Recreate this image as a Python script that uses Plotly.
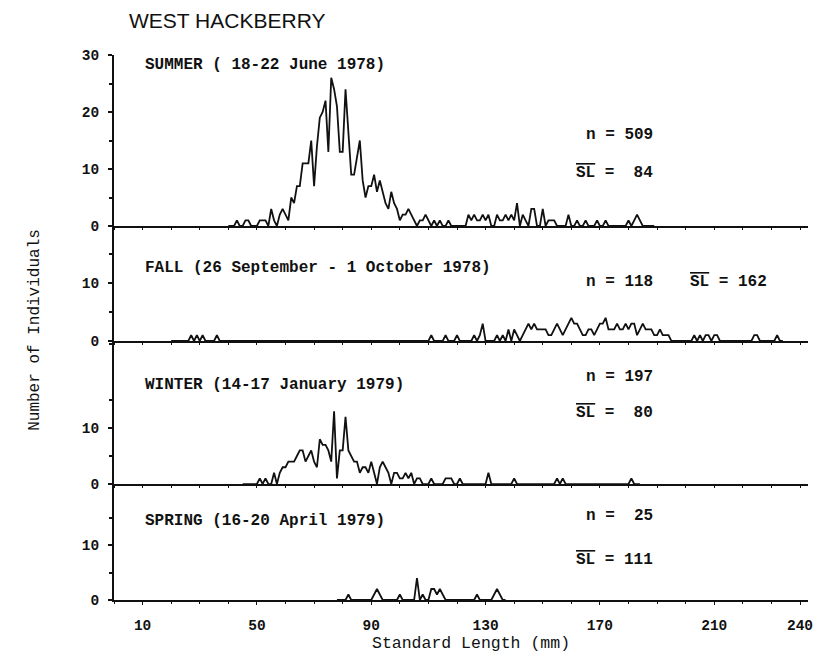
import plotly.graph_objects as go

# ---------------- data (counts per 1-mm standard-length class) ----------------
summer_start = 40
summer_counts = [
    0, 0, 0, 1, 0, 0, 1, 1, 0, 0,        # 40-49
    0, 1, 1, 1, 0, 3, 1, 0, 2, 3,        # 50-59
    2, 1, 5, 4, 7, 7, 11, 11, 11, 15,    # 60-69
    7, 14, 19, 20, 22, 13, 26, 24, 21, 13,  # 70-79
    13, 24, 17, 9, 9, 12, 15, 8, 5, 7,   # 80-89
    7, 9, 6, 8, 6, 4, 3, 6, 4, 3,        # 90-99
    1, 2, 2, 3, 2, 1, 0, 1, 1, 2,        # 100-109
    1, 0, 1, 0, 1, 0, 0, 1, 0, 0,        # 110-119
    0, 0, 0, 0, 2, 1, 2, 1, 1, 2,        # 120-129
    1, 2, 0, 0, 2, 1, 1, 2, 1, 2,        # 130-139
    1, 4, 0, 2, 1, 0, 3, 3, 0, 0,        # 140-149
    3, 0, 1, 1, 1, 0, 0, 0, 0, 2,        # 150-159
    0, 0, 1, 0, 0, 1, 0, 0, 0, 1,        # 160-169
    0, 0, 1, 0, 0, 0, 0, 0, 0, 0,        # 170-179
    1, 0, 1, 2, 1, 0, 0, 0, 0, 0,        # 180-189
]

fall_start = 20
fall_counts = [
    0, 0, 0, 0, 0, 0, 0, 1, 0, 1,        # 20-29
    0, 1, 0, 0, 0, 0, 1, 0, 0, 0,        # 30-39
    0, 0, 0, 0, 0, 0, 0, 0, 0, 0,        # 40-49
    0, 0, 0, 0, 0, 0, 0, 0, 0, 0,        # 50-59
    0, 0, 0, 0, 0, 0, 0, 0, 0, 0,        # 60-69
    0, 0, 0, 0, 0, 0, 0, 0, 0, 0,        # 70-79
    0, 0, 0, 0, 0, 0, 0, 0, 0, 0,        # 80-89
    0, 0, 0, 0, 0, 0, 0, 0, 0, 0,        # 90-99
    0, 0, 0, 0, 0, 0, 0, 0, 0, 0,        # 100-109
    0, 1, 0, 0, 0, 0, 1, 0, 0, 0,        # 110-119
    1, 0, 0, 0, 0, 0, 1, 0, 1, 3,        # 120-129
    0, 0, 0, 0, 1, 0, 1, 0, 2, 0,        # 130-139
    2, 1, 0, 1, 2, 3, 2, 3, 2, 2,        # 140-149
    2, 2, 1, 1, 2, 3, 2, 1, 2, 3,        # 150-159
    4, 3, 3, 2, 1, 1, 2, 2, 1, 2,        # 160-169
    3, 3, 4, 2, 2, 2, 3, 2, 2, 3,        # 170-179
    2, 3, 3, 1, 2, 3, 2, 2, 2, 1,        # 180-189
    1, 2, 1, 1, 1, 0, 0, 0, 0, 0,        # 190-199
    0, 0, 0, 1, 0, 1, 0, 1, 1, 0,        # 200-209
    1, 1, 0, 0, 0, 0, 0, 0, 0, 0,        # 210-219
    0, 0, 0, 0, 1, 1, 0, 0, 0, 0,        # 220-229
    0, 0, 1, 0, 0,                       # 230-234
]

winter_start = 45
winter_counts = [
    0, 0, 0, 0, 0,                       # 45-49
    0, 1, 0, 1, 0, 0, 2, 0, 2, 3,        # 50-59
    3, 4, 4, 4, 5, 6, 6, 4, 5, 6,        # 60-69
    4, 3, 8, 7, 7, 6, 4, 13, 1, 6,       # 70-79
    6, 12, 6, 5, 4, 4, 2, 3, 3, 2,       # 80-89
    4, 2, 0, 3, 4, 3, 2, 0, 2, 2,        # 90-99
    1, 1, 2, 1, 2, 0, 1, 1, 0, 0,        # 100-109
    0, 1, 0, 0, 0, 0, 1, 1, 1, 0,        # 110-119
    0, 1, 0, 0, 0, 0, 0, 0, 0, 0,        # 120-129
    0, 2, 0, 0, 0, 0, 0, 0, 0, 0,        # 130-139
    1, 0, 0, 0, 0, 0, 0, 0, 0, 0,        # 140-149
    0, 0, 0, 0, 0, 1, 0, 1, 0, 0,        # 150-159
    0, 0, 0, 0, 0, 0, 0, 0, 0, 0,        # 160-169
    0, 0, 0, 0, 0, 0, 0, 0, 0, 0,        # 170-179
    0, 1, 0, 0, 0,                       # 180-184
]

spring_start = 78
spring_counts = [
    0, 0,                                # 78-79
    0, 0, 1, 0, 0, 0, 0, 0, 0, 0,        # 80-89
    0, 1, 2, 1, 0, 0, 0, 0, 0, 0,        # 90-99
    1, 0, 0, 0, 0, 0, 4, 0, 1, 0,        # 100-109
    0, 2, 2, 1, 2, 1, 0, 0, 0, 0,        # 110-119
    0, 0, 0, 0, 0, 0, 0, 1, 0, 0,        # 120-129
    0, 0, 0, 1, 2, 1, 0, 0,              # 130-137
]

panel_labels = [
    "SUMMER ( 18-22 June 1978)",
    "FALL (26 September - 1 October 1978)",
    "WINTER (14-17 January 1979)",
    "SPRING (16-20 April 1979)",
]
n_values = ["509", "118", "197", " 25"]
sl_values = [" 84", "162", " 80", "111"]

x_tick_vals = [10, 50, 90, 130, 170, 210, 240]


def lengths(start, counts):
    return list(range(start, start + len(counts)))


# ---------------- figure ----------------
MONO = "Liberation Mono"
BLACK = "#111111"

fig = go.Figure()

# subplot order bottom -> top : spring (1), winter (2), fall (3), summer (4)
series = [
    (spring_start, spring_counts),
    (winter_start, winter_counts),
    (fall_start, fall_counts),
    (summer_start, summer_counts),
]
for i, (s, c) in enumerate(series):
    sfx = "" if i == 0 else str(i + 1)
    fig.add_trace(go.Scatter(
        x=lengths(s, c), y=c, mode="lines",
        line=dict(color=BLACK, width=1.8),
        xaxis="x" + sfx, yaxis="y" + sfx, showlegend=False,
        hoverinfo="skip",
    ))

domains = [[0.0, 0.2128], [0.2128, 0.4752], [0.4752, 0.6862], [0.6862, 1.0]]
yranges = [[0, 21.09], [0, 25.54], [0, 19.83], [0, 30]]
ytickvals = [[0, 10], [0, 10], [0, 10], [0, 10, 20, 30]]
XMAX = 242.8

# the page places the figure 8 px from the top-left corner, so the figure is
# made 8 px smaller and its margins are shifted accordingly
layout = dict(
    width=817, height=646,
    margin=dict(l=106, r=13, t=47, b=54),
    paper_bgcolor="white", plot_bgcolor="white",
    showlegend=False,
)
for i in range(4):
    sfx = "" if i == 0 else str(i + 1)
    layout["xaxis" + sfx] = dict(
        domain=[0, 1], anchor="y" + sfx, range=[0, XMAX],
        showline=True, linecolor=BLACK, linewidth=2,
        showgrid=False, zeroline=False,
        tickmode="array", tickvals=x_tick_vals if i == 0 else [],
        showticklabels=(i == 0),
        ticks="outside", ticklen=3, tickwidth=1, tickcolor=BLACK,
        minor=dict(ticks="outside", tick0=0, dtick=10, ticklen=2,
                   tickwidth=1, tickcolor=BLACK),
        tickfont=dict(family=MONO, size=14.5, color=BLACK, weight="bold"),
        ticklabelstandoff=8,
        fixedrange=True,
    )
    if i > 0:
        layout["xaxis" + sfx]["matches"] = "x"
    layout["yaxis" + sfx] = dict(
        domain=domains[i], anchor="x" + sfx, range=yranges[i],
        showline=True, linecolor=BLACK, linewidth=2,
        showgrid=False, zeroline=False,
        tickmode="array", tickvals=ytickvals[i],
        ticks="outside", ticklen=4, tickwidth=1.5, tickcolor=BLACK,
        minor=dict(ticks="outside", tickvals=[5, 15, 25], ticklen=3,
                   tickwidth=1.5, tickcolor=BLACK),
        tickfont=dict(family=MONO, size=14.5, color=BLACK, weight="bold"),
        ticklabelstandoff=6,
        fixedrange=True,
    )
fig.update_layout(**layout)

OL = '<span style="text-decoration:overline">SL</span>'
txt = dict(family=MONO, size=16, color=BLACK, weight="bold")
ann = []
# panel label y positions (data units) and n / SL positions
label_y = [14.4, 17.7, 12.6, 28.2]
n_y = [15.3, 19.1, 10.2, 16.0]
sl_y = [7.3, 12.7, 10.2, 9.3]
names_bottom_up = [panel_labels[3], panel_labels[2], panel_labels[1], panel_labels[0]]
n_bu = [n_values[3], n_values[2], n_values[1], n_values[0]]
sl_bu = [sl_values[3], sl_values[2], sl_values[1], sl_values[0]]
X_RIGHT = 189.3
for i in range(4):
    sfx = "" if i == 0 else str(i + 1)
    ann.append(dict(text=names_bottom_up[i], x=10, y=label_y[i],
                    xref="x" + sfx, yref="y" + sfx, xanchor="left",
                    yanchor="middle", showarrow=False, font=txt))
    ann.append(dict(text="n = " + n_bu[i].replace(" ", "&nbsp;"),
                    x=X_RIGHT, y=n_y[i],
                    xref="x" + sfx, yref="y" + sfx, xanchor="right",
                    yanchor="middle", showarrow=False, font=txt))
    if i == 2:  # fall: SL on the same line
        ann.append(dict(text=OL + " = " + sl_bu[i], x=229.0, y=sl_y[i],
                        xref="x" + sfx, yref="y" + sfx, xanchor="right",
                        yanchor="middle", showarrow=False, font=txt))
    else:
        ann.append(dict(text=OL + " = " + sl_bu[i].replace(" ", "&nbsp;"),
                        x=X_RIGHT, y=sl_y[i],
                        xref="x" + sfx, yref="y" + sfx, xanchor="right",
                        yanchor="middle", showarrow=False, font=txt))

ann.append(dict(text="WEST HACKBERRY", x=0.0186, y=1.064, xref="paper",
                yref="paper", xanchor="left", yanchor="middle",
                showarrow=False,
                font=dict(family="Liberation Sans", size=21, color=BLACK)))
ann.append(dict(text="Number of Individuals", x=-0.113, y=0.495,
                xref="paper", yref="paper", xanchor="center",
                yanchor="middle", textangle=-90, showarrow=False,
                font=dict(family=MONO, size=16, color=BLACK)))
ann.append(dict(text="Standard Length (mm)", x=0.514, y=-0.079,
                xref="paper", yref="paper", xanchor="center",
                yanchor="middle", showarrow=False,
                font=dict(family=MONO, size=16.5, color=BLACK)))
fig.update_layout(annotations=ann)

fig.write_html("out.html")
